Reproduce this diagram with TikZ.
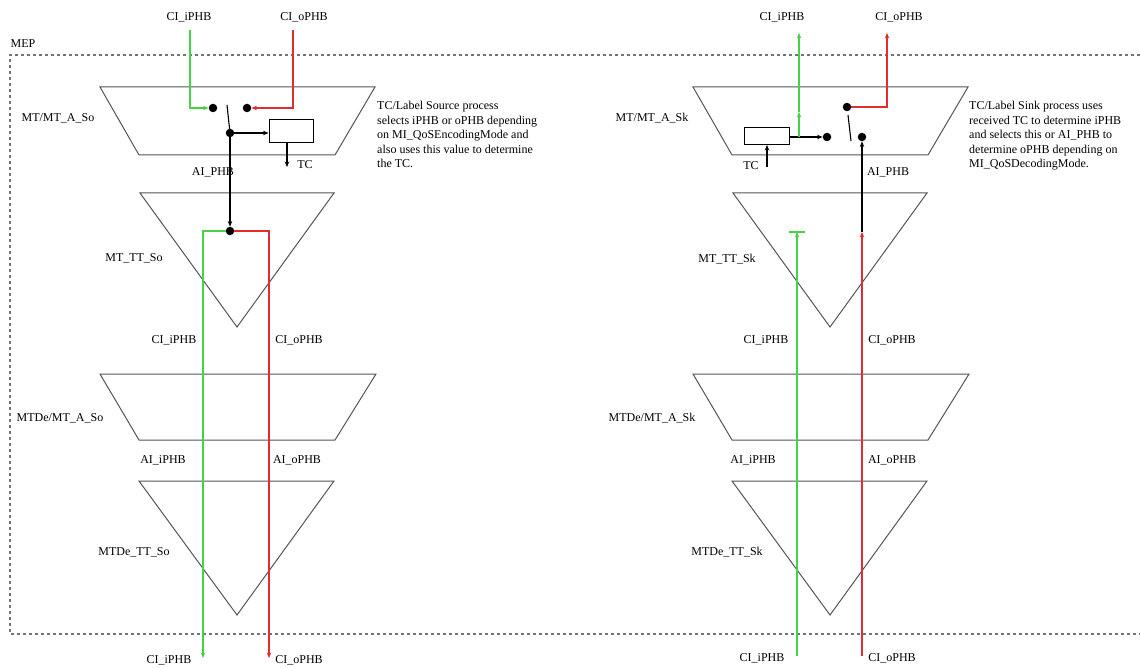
\documentclass[tikz,border=0pt]{standalone}
\usepackage{fontspec}
\setmainfont{Liberation Serif}
\usetikzlibrary{arrows.meta}
\definecolor{grn}{RGB}{70,210,70}
\definecolor{rd}{RGB}{225,45,45}
\definecolor{shpc}{RGB}{85,85,85}
\begin{document}
\begin{tikzpicture}[x=1pt,y=-1pt,
  lbl/.style={font=\fontsize{12}{14}\selectfont, inner sep=0pt},
  note/.style={font=\fontsize{12}{14.5}\selectfont, inner sep=0pt, align=left, anchor=north west},
  dot/.style={circle,fill=black,inner sep=0pt,minimum size=8.5pt},
  shp/.style={draw=shpc,line width=1pt,line join=miter},
  wire/.style={line width=1.1pt,draw=black},
  gw/.style={line width=1.2pt,draw=grn},
  rw/.style={line width=1.2pt,draw=rd},
  tip/.style={-{Stealth[length=5.5pt,width=4.5pt]}},
  boxs/.style={draw=black,line width=1pt,inner sep=0pt},
  mep/.style={draw=black!55,line width=1.3pt,dash pattern=on 3pt off 3pt}
]
\useasboundingbox (0,0) rectangle (1140,668);
% MEP frame
\coordinate (mepTR) at (1140,55);
\coordinate (mepTL) at (10,55);
\coordinate (mepBL) at (10,634);
\coordinate (mepBR) at (1140,634);
\draw[mep] (mepTR) -- (mepTL) -- (mepBL) -- (mepBR);
\node[lbl] (mepLbl) at (23,44) {MEP};

% shapes
\foreach \dx in {0,593}{
  \begin{scope}[xshift=\dx]
  \draw[shp] (100,87) -- (375,87) -- (335,155) -- (139,155) -- cycle;
  \draw[shp] (140,193) -- (334,193) -- (237,327) -- cycle;
  \draw[shp] (100,374) -- (376,374) -- (335,440) -- (139,440) -- cycle;
  \draw[shp] (139,481) -- (334,481) -- (237,615) -- cycle;
  \end{scope}
}

% ---------------- left (source) ----------------
\node[lbl] (ciTopL) at (189,17) {CI\_iPHB};
\node[lbl] (coTopL) at (304,17) {CI\_oPHB};
\node[lbl] (aL) at (58,118) {MT/MT\_A\_So};
\node[lbl] (bL) at (134,258) {MT\_TT\_So};
\node[lbl] (cL) at (60,418) {MTDe/MT\_A\_So};
\node[lbl] (dL) at (134,552) {MTDe\_TT\_So};
\node[lbl] (aiphbL) at (213,172) {AI\_PHB};
\node[lbl] (ciMidL) at (174,340) {CI\_iPHB};
\node[lbl] (coMidL) at (299,340) {CI\_oPHB};
\node[lbl] (aiL) at (163,460) {AI\_iPHB};
\node[lbl] (aoL) at (297,460) {AI\_oPHB};
\node[lbl] (ciBotL) at (169,660) {CI\_iPHB};
\node[lbl] (coBotL) at (299,660) {CI\_oPHB};
\node[note] (noteL) at (377,101) {TC/Label Source process\\selects iPHB or oPHB depending\\on MI\_QoSEncodingMode and\\also uses this value to determine\\the TC.};

\coordinate (gTopL) at (190,30);
\coordinate (rTopL) at (293,30);
\node[dot] (dGL) at (213,108) {};
\node[dot] (dRL) at (247,108) {};
\draw[gw,tip] (gTopL) |- (dGL);
\draw[rw,tip] (rTopL) |- (dRL);
\coordinate (swL) at (227,105);
\node[dot] (dAL) at (230,133) {};
\draw[wire] (swL) -- (dAL.center);
\node[boxs,minimum width=44pt,minimum height=23pt] (boxL) at (291,131.5) {};
\draw[wire,tip] (dAL) -- (boxL.west |- dAL);
\coordinate (tcL) at (287,167);
\draw[wire,tip] (boxL.south -| tcL) -- (tcL);
\node[lbl] (tcLlbl) at (305,165) {TC};
\node[dot] (dML) at (230,231) {};
\draw[wire,tip] (dAL) -- (dML);
\coordinate (gBotL) at (203,658);
\coordinate (rBotL) at (269,658);
\draw[gw,tip] (dML) -| (gBotL);
\draw[rw,tip] (dML) -| (rBotL);

% ---------------- right (sink) ----------------
\node[lbl] (ciTopR) at (782,17) {CI\_iPHB};
\node[lbl] (coTopR) at (899,17) {CI\_oPHB};
\node[lbl] (aR) at (652,118) {MT/MT\_A\_Sk};
\node[lbl] (bR) at (727,259) {MT\_TT\_Sk};
\node[lbl] (cR) at (652,418) {MTDe/MT\_A\_Sk};
\node[lbl] (dR) at (727,552) {MTDe\_TT\_Sk};
\node[lbl] (aiphbR) at (888,172) {AI\_PHB};
\node[lbl] (ciMidR) at (766,340) {CI\_iPHB};
\node[lbl] (coMidR) at (892,340) {CI\_oPHB};
\node[lbl] (aiR) at (753,460) {AI\_iPHB};
\node[lbl] (aoR) at (892,460) {AI\_oPHB};
\node[lbl] (ciBotR) at (762,658) {CI\_iPHB};
\node[lbl] (coBotR) at (892,658) {CI\_oPHB};
\node[note] (noteR) at (969,101) {TC/Label Sink process uses\\received TC to determine iPHB\\and selects this or AI\_PHB to\\determine oPHB depending on\\MI\_QoSDecodingMode.};

\node[boxs,minimum width=45pt,minimum height=17pt] (boxR) at (766.5,136) {};
\node[dot] (dSR) at (827,137) {};
\draw[wire,tip] (boxR.east |- dSR) -- (dSR);
\coordinate (jR) at (799,137);
\coordinate (gMidR) at (799,112);
\coordinate (gTopR) at (799,33);
\draw[gw,tip] (jR) -- (gMidR);
\draw[gw,tip] (gMidR) -- (gTopR);
\coordinate (tcR) at (767,167);
\draw[wire,tip] (tcR) -- (boxR.south -| tcR);
\node[lbl] (tcRlbl) at (751,166) {TC};
\node[dot] (dRR) at (847,107) {};
\coordinate (rTopR) at (887,33);
\draw[rw,tip] (dRR) -| (rTopR);
\coordinate (lvA) at (848,115);
\coordinate (lvB) at (851,141);
\draw[wire] (lvA) -- (lvB);
\node[dot] (dAR) at (862,137) {};
\coordinate (bEndR) at (862,232);
\draw[wire,tip] (bEndR) -- (dAR);
\coordinate (rBotR) at (862,656);
\draw[rw,tip] (rBotR) -- (bEndR);
\coordinate (gBotR) at (797,656);
\coordinate (gEndR) at (797,232);
\draw[gw,tip] (gBotR) -- (gEndR);
\coordinate (gBarA) at (789,232);
\coordinate (gBarB) at (805,232);
\draw[gw] (gBarA) -- (gBarB);
\end{tikzpicture}
\end{document}
